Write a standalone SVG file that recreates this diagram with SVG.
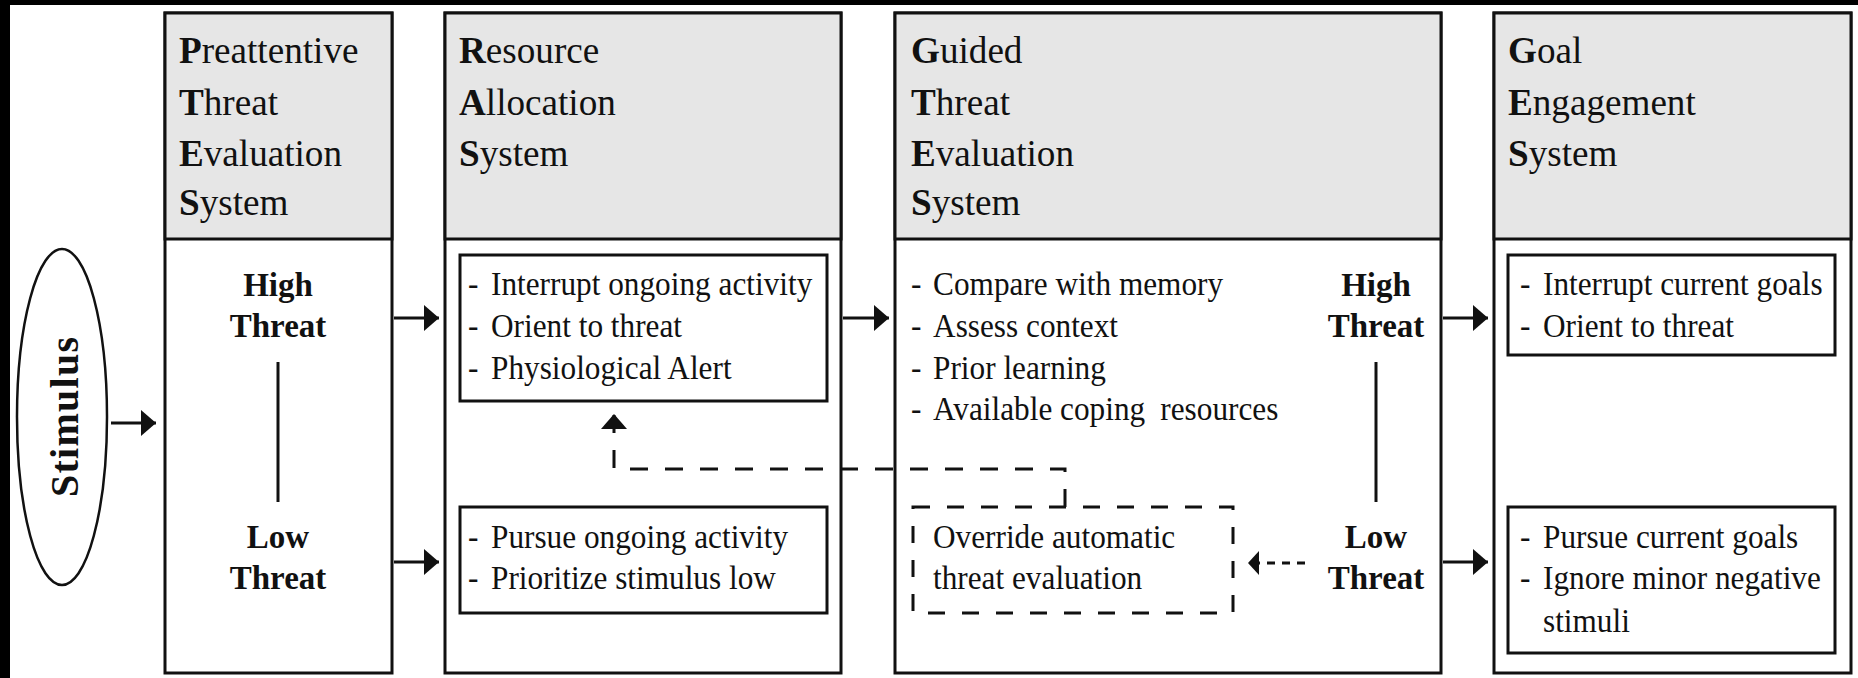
<svg xmlns="http://www.w3.org/2000/svg" width="1858" height="678" viewBox="0 0 1858 678">
<style>
  text { font-family: "Liberation Serif", "Times New Roman", serif; fill: #111; }
  .hdr { font-size: 38.5px; }
  .body { font-size: 34px; }
  .lbl { font-size: 33px; font-weight: bold; text-anchor: middle; }
  .b { font-weight: bold; }
  .box { fill: #ffffff; stroke: #111; stroke-width: 3; }
  .head { fill: #e6e6e6; stroke: #111; stroke-width: 3; }
  .inner { fill: none; stroke: #111; stroke-width: 3; }
  .dbox { fill: none; stroke: #111; stroke-width: 3; stroke-dasharray: 17 17; }
  .conn { fill: none; stroke: #111; stroke-width: 3; }
  .dash { fill: none; stroke: #111; stroke-width: 3; stroke-dasharray: 18 17; }
  .dash2 { fill: none; stroke: #111; stroke-width: 3; stroke-dasharray: 8 7; }
</style>
<defs>
  <marker id="ah" markerUnits="userSpaceOnUse" markerWidth="16" markerHeight="26" refX="15" refY="13" orient="auto">
    <path d="M0,0 L15,13 L0,26 z" fill="#111"/>
  </marker>
  <marker id="ahs" markerUnits="userSpaceOnUse" markerWidth="12" markerHeight="24" refX="11" refY="12" orient="auto">
    <path d="M0,0 L11,12 L0,24 z" fill="#111"/>
  </marker>
</defs>
<rect x="0" y="0" width="1858" height="678" fill="#ffffff"/>
<rect x="0" y="0" width="1858" height="5" fill="#000"/>
<rect x="0" y="0" width="10" height="678" fill="#000"/>

<g id="stimulus">
  <ellipse cx="62" cy="417" rx="45" ry="168" fill="#fff" stroke="#111" stroke-width="2.5"/>
  <text class="b" font-size="40" textLength="160" text-anchor="middle" transform="translate(78,417) rotate(-90)">Stimulus</text>
</g>

<g id="ptes">
  <rect class="box" x="165" y="13" width="227" height="660"/>
  <rect class="head" x="165" y="13" width="227" height="226"/>
  <g transform="translate(179,0) scale(0.965,1)">
    <text class="hdr" x="0" y="63"><tspan class="b">P</tspan>reattentive</text>
    <text class="hdr" x="0" y="115"><tspan class="b">T</tspan>hreat</text>
    <text class="hdr" x="0" y="166"><tspan class="b">E</tspan>valuation</text>
    <text class="hdr" x="0" y="215"><tspan class="b">S</tspan>ystem</text>
  </g>
  <text class="lbl" x="278" y="296">High</text>
  <text class="lbl" x="278" y="337">Threat</text>
  <line x1="278" y1="362" x2="278" y2="502" stroke="#111" stroke-width="3"/>
  <text class="lbl" x="278" y="548">Low</text>
  <text class="lbl" x="278" y="589">Threat</text>
</g>

<g id="ras">
  <rect class="box" x="445" y="13" width="396" height="660"/>
  <rect class="head" x="445" y="13" width="396" height="226"/>
  <g transform="translate(459,0) scale(0.965,1)">
    <text class="hdr" x="0" y="63"><tspan class="b">R</tspan>esource</text>
    <text class="hdr" x="0" y="115"><tspan class="b">A</tspan>llocation</text>
    <text class="hdr" x="0" y="166"><tspan class="b">S</tspan>ystem</text>
  </g>
</g>
<g id="ras-high">
  <rect class="inner" x="460" y="255" width="367" height="146"/>
  <g transform="translate(468,0) scale(0.92,1)">
    <text class="body" y="295"><tspan x="0">-</tspan><tspan x="25">Interrupt ongoing activity</tspan></text>
    <text class="body" y="337"><tspan x="0">-</tspan><tspan x="25">Orient to threat</tspan></text>
    <text class="body" y="379"><tspan x="0">-</tspan><tspan x="25">Physiological Alert</tspan></text>
  </g>
</g>
<g id="ras-low">
  <rect class="inner" x="460" y="507" width="367" height="106"/>
  <g transform="translate(468,0) scale(0.92,1)">
    <text class="body" y="548"><tspan x="0">-</tspan><tspan x="25">Pursue ongoing activity</tspan></text>
    <text class="body" y="589"><tspan x="0">-</tspan><tspan x="25">Prioritize stimulus low</tspan></text>
  </g>
</g>

<g id="gtes">
  <rect class="box" x="895" y="13" width="546" height="660"/>
  <rect class="head" x="895" y="13" width="546" height="226"/>
  <g transform="translate(911,0) scale(0.965,1)">
    <text class="hdr" x="0" y="63"><tspan class="b">G</tspan>uided</text>
    <text class="hdr" x="0" y="115"><tspan class="b">T</tspan>hreat</text>
    <text class="hdr" x="0" y="166"><tspan class="b">E</tspan>valuation</text>
    <text class="hdr" x="0" y="215"><tspan class="b">S</tspan>ystem</text>
  </g>
  <g transform="translate(911,0) scale(0.92,1)">
    <text class="body" y="295"><tspan x="0">-</tspan><tspan x="24">Compare with memory</tspan></text>
    <text class="body" y="337"><tspan x="0">-</tspan><tspan x="24">Assess context</tspan></text>
    <text class="body" y="379"><tspan x="0">-</tspan><tspan x="24">Prior learning</tspan></text>
    <text class="body" y="420"><tspan x="0">-</tspan><tspan x="24">Available coping</tspan><tspan x="271">resources</tspan></text>
  </g>
  <text class="lbl" x="1376" y="296">High</text>
  <text class="lbl" x="1376" y="337">Threat</text>
  <line x1="1376" y1="362" x2="1376" y2="502" stroke="#111" stroke-width="3"/>
  <text class="lbl" x="1376" y="548">Low</text>
  <text class="lbl" x="1376" y="589">Threat</text>
</g>
<g id="override">
  <rect class="dbox" x="913" y="507" width="320" height="106"/>
  <g transform="translate(933,0) scale(0.92,1)">
    <text class="body" x="0" y="548">Override automatic</text>
    <text class="body" x="0" y="589">threat evaluation</text>
  </g>
</g>

<g id="ges">
  <rect class="box" x="1494" y="13" width="357" height="660"/>
  <rect class="head" x="1494" y="13" width="357" height="226"/>
  <g transform="translate(1508,0) scale(0.965,1)">
    <text class="hdr" x="0" y="63"><tspan class="b">G</tspan>oal</text>
    <text class="hdr" x="0" y="115"><tspan class="b">E</tspan>ngagement</text>
    <text class="hdr" x="0" y="166"><tspan class="b">S</tspan>ystem</text>
  </g>
</g>
<g id="ges-high">
  <rect class="inner" x="1508" y="255" width="327" height="100"/>
  <g transform="translate(1520,0) scale(0.92,1)">
    <text class="body" y="295"><tspan x="0">-</tspan><tspan x="25">Interrupt current goals</tspan></text>
    <text class="body" y="337"><tspan x="0">-</tspan><tspan x="25">Orient to threat</tspan></text>
  </g>
</g>
<g id="ges-low">
  <rect class="inner" x="1508" y="507" width="327" height="146"/>
  <g transform="translate(1520,0) scale(0.92,1)">
    <text class="body" y="548"><tspan x="0">-</tspan><tspan x="25">Pursue current goals</tspan></text>
    <text class="body" y="589"><tspan x="0">-</tspan><tspan x="25">Ignore minor negative</tspan></text>
    <text class="body" x="25" y="632">stimuli</text>
  </g>
</g>

<g id="connectors">
  <line class="conn" x1="111" y1="423" x2="156" y2="423" marker-end="url(#ah)"/>
  <line class="conn" x1="394" y1="318" x2="439" y2="318" marker-end="url(#ah)"/>
  <line class="conn" x1="394" y1="562" x2="439" y2="562" marker-end="url(#ah)"/>
  <line class="conn" x1="843" y1="318" x2="889" y2="318" marker-end="url(#ah)"/>
  <line class="conn" x1="1443" y1="318" x2="1488" y2="318" marker-end="url(#ah)"/>
  <line class="conn" x1="1443" y1="562" x2="1488" y2="562" marker-end="url(#ah)"/>
  <path class="dash" d="M1065,507 L1065,469 L614,469 L614,414" marker-end="url(#ah)"/>
  <path class="dash2" d="M1305,563 L1248,563" marker-end="url(#ahs)"/>
</g>
</svg>
